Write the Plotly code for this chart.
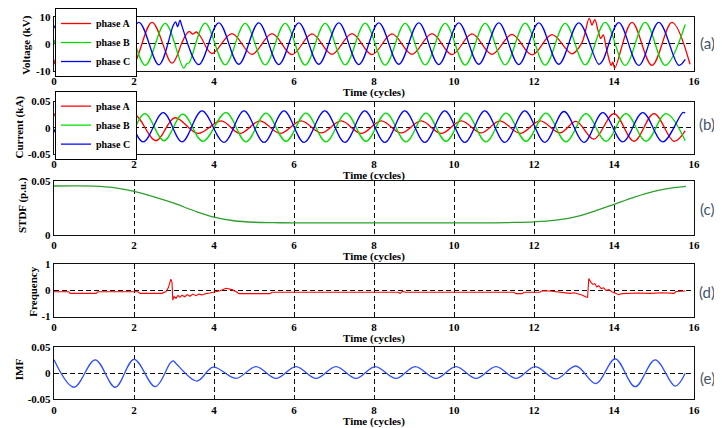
import plotly.graph_objects as go

# ------------------------------------------------------------------ data
TIME_TICKS = [0, 2, 4, 6, 8, 10, 12, 14, 16]
TIME_TICK_LABELS = ["0", "2", "4", "6", "8", "10", "12", "14", "16"]

V_TICKS = [-10, 0, 10]
V_TICK_LABELS = ["-10", "0", "10"]
I_TICKS = [-0.05, 0, 0.05]
I_TICK_LABELS = ["-0.05", "0", "0.05"]
S_TICKS = [0, 0.05]
S_TICK_LABELS = ["0", "0.05"]
F_TICKS = [-1, 0, 1]
F_TICK_LABELS = ["-1", "0", "1"]
M_TICKS = [-0.05, 0, 0.05]
M_TICK_LABELS = ["-0.05", "0", "0.05"]

PHASE_NAMES = ["phase A", "phase B", "phase C"]

# Voltage (kV) - extrema / key points
VA_T = [0.0, 0.45, 0.95, 1.45, 1.95, 2.45, 2.95, 3.20, 3.30, 3.38, 3.47, 3.56, 3.66, 3.95,
        4.45, 4.95, 5.45, 5.95, 6.45, 6.95, 7.45, 7.95, 8.45, 8.95, 9.45, 9.95, 10.45, 10.95,
        11.45, 11.95, 12.45, 12.95, 13.20, 13.38, 13.45, 13.52, 13.60, 13.67, 13.73, 13.80,
        13.88, 13.93, 13.97, 14.02, 14.45, 14.95, 15.45, 15.90]
VA_V = [-7.6, 8.0, -8.0, 8.0, -7.9, 8.0, -7.2, 0.5, 3.4, 4.6, 3.6, 4.4, 2.8, -3.6,
        3.8, -3.9, 3.8, -4.0, 3.7, -3.9, 3.8, -4.0, 3.7, -3.9, 3.8, -4.0, 3.7, -3.9,
        3.5, -4.1, 3.4, -3.7, 0.5, 9.5, 7.0, 9.0, 5.0, 2.0, 3.3, -1.0,
        -6.0, -8.0, -6.8, -9.0, 8.0, -8.0, 8.0, -7.6]

VB_T = [0.0, 0.28, 0.78, 1.28, 1.78, 2.28, 2.78, 3.24, 3.32, 3.38, 3.78, 4.28, 4.78, 5.28,
        5.78, 6.28, 6.78, 7.28, 7.78, 8.28, 8.78, 9.28, 9.78, 10.28, 10.78, 11.28, 11.78,
        12.28, 12.78, 13.28, 13.78, 14.28, 14.78, 15.28, 15.78]
VB_V = [1.5, -8.0, 8.0, -8.0, 8.0, -8.0, 7.6, -9.0, -7.4, -7.0, 7.7, -7.8, 7.6, -7.8,
        7.6, -7.9, 7.6, -7.8, 7.7, -7.9, 7.6, -7.8, 7.6, -7.9, 7.6, -7.8, 7.7,
        -7.9, 7.6, -7.8, 8.0, -8.0, 8.0, -8.0, 7.2]

VC_T = [0.0, 0.12, 0.62, 1.12, 1.62, 2.12, 2.62, 2.98, 3.04, 3.09, 3.15, 3.20, 3.62, 4.12,
        4.62, 5.12, 5.62, 6.12, 6.62, 7.12, 7.62, 8.12, 8.62, 9.12, 9.62, 10.12, 10.62,
        11.12, 11.62, 12.12, 12.62, 13.12, 13.62, 13.72, 14.12, 14.62, 15.12, 15.62, 15.78]
VC_V = [5.9, 8.0, -8.0, 8.0, -8.0, 8.0, -7.8, 6.8, 8.2, 6.4, 8.8, 6.5, -7.7, 7.8,
        -7.6, 7.8, -7.7, 7.8, -7.6, 7.8, -7.7, 7.8, -7.6, 7.8, -7.7, 7.8, -7.6,
        7.8, -7.7, 7.8, -7.6, 7.8, -7.6, -6.2, 7.9, -8.0, 8.0, -8.0, -5.8]

# Current (kA)
IA_T = [0.0, 0.5, 1.0, 1.5, 2.0, 2.55, 3.02, 3.6, 4.18, 4.65, 5.15, 5.65, 6.18, 6.68,
        7.18, 7.68, 8.18, 8.68, 9.18, 9.68, 10.18, 10.68, 11.15, 11.65, 12.15, 12.65,
        13.05, 13.5, 14.0, 14.5, 15.0, 15.5, 15.78]
IA_V = [0.027, -0.025, 0.026, -0.025, 0.025, -0.025, 0.019, -0.011, 0.013, -0.011, 0.013,
        -0.011, 0.013, -0.010, 0.013, -0.011, 0.013, -0.010, 0.013, -0.011, 0.013, -0.010,
        0.013, -0.011, 0.013, -0.010, 0.012, -0.022, 0.027, -0.026, 0.027, -0.026, -0.006]

IB_T = [0.0, 0.3, 0.8, 1.3, 1.8, 2.27, 2.75, 3.22, 3.72, 4.3, 4.8, 5.3, 5.8, 6.3, 6.8,
        7.3, 7.8, 8.3, 8.8, 9.3, 9.8, 10.3, 10.8, 11.3, 11.8, 12.3, 12.8, 13.3, 13.8,
        14.3, 14.8, 15.3, 15.78]
IB_V = [-0.008, 0.027, -0.025, 0.027, -0.025, 0.027, -0.025, 0.026, -0.026, 0.029, -0.027,
        0.028, -0.026, 0.028, -0.027, 0.028, -0.026, 0.028, -0.027, 0.028, -0.026, 0.028,
        -0.027, 0.028, -0.026, 0.028, -0.027, 0.027, -0.026, 0.027, -0.026, 0.027, -0.025]

IC_T = [0.0, 0.23, 0.73, 1.23, 1.73, 2.23, 2.73, 3.2, 3.7, 4.25, 4.75, 5.25, 5.75, 6.25,
        6.77, 7.27, 7.77, 8.27, 8.77, 9.27, 9.77, 10.27, 10.77, 11.27, 11.77, 12.27, 12.75,
        13.25, 13.72, 14.22, 14.72, 15.22, 15.72, 15.78]
IC_V = [-0.004, -0.027, 0.028, -0.027, 0.028, -0.027, 0.029, -0.027, 0.032, -0.028, 0.032,
        -0.028, 0.032, -0.028, 0.032, -0.028, 0.032, -0.028, 0.032, -0.028, 0.032, -0.028,
        0.032, -0.028, 0.032, -0.028, 0.031, -0.028, 0.029, -0.027, 0.029, -0.027, 0.029, 0.028]

# STDF (p.u.)
S_T = [0, 0.5, 1.0, 1.5, 2.0, 2.5, 3.0, 3.5, 4.0, 4.5, 5.0, 5.5, 6.0, 8.0, 10.0, 11.0,
       11.5, 12.0, 12.5, 13.0, 13.5, 14.0, 14.5, 15.0, 15.5, 15.8]
S_V = [0.0455, 0.0456, 0.0454, 0.0440, 0.0405, 0.0355, 0.0295, 0.0225, 0.0165, 0.0132,
       0.0118, 0.0114, 0.0112, 0.0112, 0.0112, 0.0113, 0.0116, 0.0122, 0.0135, 0.0165,
       0.0220, 0.0285, 0.0350, 0.0405, 0.0440, 0.0452]

# Frequency deviation
F_T = [0, 0.37, 0.40, 1.05, 1.10, 2.10, 2.15, 2.70, 2.80, 2.86, 2.92, 2.95, 2.97, 3.00,
       3.05, 3.10, 3.15, 3.20, 3.27, 3.33, 3.40, 3.47, 3.55, 3.62, 3.70, 3.80, 3.90, 4.00,
       4.15, 4.30, 4.45, 4.58, 4.62, 5.40, 5.45, 8.60, 8.65, 8.72, 8.78, 11.50, 11.55,
       11.70, 11.75, 12.15, 12.20, 12.40, 12.60, 12.75, 12.90, 13.00, 13.10, 13.20, 13.30,
       13.34, 13.37, 13.42, 13.47, 13.52, 13.57, 13.62, 13.68, 13.74, 13.80, 13.87, 13.95,
       14.05, 14.12, 14.20, 14.35, 14.60, 14.90, 15.20, 15.50, 15.55, 15.78]
F_V = [-0.06, -0.06, -0.12, -0.12, -0.06, -0.06, -0.12, -0.12, -0.05, 0.10, 0.42, 0.30,
       -0.38, -0.24, -0.31, -0.20, -0.27, -0.19, -0.25, -0.17, -0.23, -0.15, -0.21, -0.15,
       -0.18, -0.13, -0.11, -0.08, -0.02, 0.07, 0.02, -0.08, -0.13, -0.13, -0.08, -0.08,
       -0.12, -0.04, -0.08, -0.08, -0.13, -0.13, -0.08, -0.08, -0.02, -0.03, -0.06, -0.08,
       -0.12, -0.10, -0.15, -0.18, -0.26, -0.27, 0.44, 0.30, 0.22, 0.25, 0.12, 0.17, 0.06,
       0.09, -0.01, 0.02, -0.06, -0.12, -0.17, -0.13, -0.12, -0.11, -0.12, -0.10, -0.12,
       -0.05, -0.03]

# IMF
M_T = [0.0, 0.5, 1.03, 1.53, 2.0, 2.53, 2.9, 2.98, 3.05, 3.57, 3.98, 4.55, 5.05, 5.55,
       6.05, 6.55, 7.05, 7.55, 8.03, 8.55, 9.03, 9.55, 10.05, 10.55, 11.05, 11.55, 12.03,
       12.55, 13.05, 13.55, 14.03, 14.53, 15.03, 15.53, 15.78]
M_V = [0.026, -0.027, 0.026, -0.027, 0.027, -0.026, 0.019, 0.024, 0.019, -0.015, 0.012,
       -0.010, 0.013, -0.010, 0.013, -0.010, 0.013, -0.010, 0.013, -0.010, 0.013, -0.010,
       0.013, -0.010, 0.013, -0.010, 0.013, -0.011, 0.014, -0.020, 0.028, -0.026, 0.026,
       -0.025, 0.0]

Y_TITLES = ["Voltage (kV)", "Current (kA)", "STDF (p.u.)", "Frequency", "IMF"]
X_TITLE = "Time (cycles)"
PANEL_LABELS = ["(a)", "(b)", "(c)", "(d)", "(e)"]

# ------------------------------------------------------------------ layout constants
# page body adds an 8 px offset; positions below are given in window pixels
OFF = 8
W, H = 722 - OFF, 428 - OFF
X0, X1 = 54, 694
PANEL_TOP = [15, 100, 180, 263, 347]
PANEL_BOT = [69, 152.5, 234, 316, 399]
Y_RANGES = [[-10, 10], [-0.05, 0.05], [0, 0.05], [-1, 1], [-0.05, 0.05]]
YTITLE_X = [27, 19, 22, 33, 19]
YTITLE_Y = [43, 126, 204, 291, 369]
LABEL_Y = [41, 123, 208, 291, 378]
LABEL_X = 707
LEGEND_TOP = [6, 89]

PH_COLORS = ["#ff0000", "#00dd00", "#0000ff"]


def fx(p):
    return (p - OFF) / W


def fy(p):
    return 1 - (p - OFF) / H


fig = go.Figure()

volt = [(VA_T, VA_V), (VB_T, VB_V), (VC_T, VC_V)]
curr = [(IA_T, IA_V), (IB_T, IB_V), (IC_T, IC_V)]

for (t, v), name, col in zip(volt, PHASE_NAMES, PH_COLORS):
    fig.add_trace(go.Scatter(x=t, y=v, name=name, mode="lines", xaxis="x", yaxis="y",
                             line=dict(color=col, width=1.3, shape="spline", smoothing=1.0),
                             legend="legend"))
for (t, v), name, col in zip(curr, PHASE_NAMES, PH_COLORS):
    fig.add_trace(go.Scatter(x=t, y=v, name=name, mode="lines", xaxis="x2", yaxis="y2",
                             line=dict(color=col, width=1.3, shape="spline", smoothing=1.0),
                             legend="legend2"))

fig.add_trace(go.Scatter(x=S_T, y=S_V, name="STDF", mode="lines", xaxis="x3", yaxis="y3",
                         line=dict(color="#2ca02c", width=1.3, shape="spline"), showlegend=False))
fig.add_trace(go.Scatter(x=F_T, y=F_V, name="Frequency", mode="lines", xaxis="x4", yaxis="y4",
                         line=dict(color="#ff0000", width=1.1), showlegend=False))
fig.add_trace(go.Scatter(x=M_T, y=M_V, name="IMF", mode="lines", xaxis="x5", yaxis="y5",
                         line=dict(color="#2f4fff", width=1.3, shape="spline"), showlegend=False))

tick_font = dict(family="Liberation Serif", size=11, color="black", weight="bold")
title_font = dict(family="Liberation Serif", size=11, color="black", weight="bold")

yticks = [(V_TICKS, V_TICK_LABELS), (I_TICKS, I_TICK_LABELS), (S_TICKS, S_TICK_LABELS),
          (F_TICKS, F_TICK_LABELS), (M_TICKS, M_TICK_LABELS)]

layout = {}
annotations = []
for i in range(5):
    sfx = "" if i == 0 else str(i + 1)
    common = dict(showgrid=True, gridcolor="#111111", griddash="5px,3px", gridwidth=1,
                  zeroline=False, showline=True, mirror=True, linecolor="#111111",
                  linewidth=1.4, ticks="", tickfont=tick_font, fixedrange=True,
                  automargin=False, ticklabeloverflow="allow")
    layout["xaxis" + sfx] = dict(domain=[fx(X0), fx(X1)], range=[0, 16], anchor="y" + sfx,
                                 tickmode="array", tickvals=TIME_TICKS,
                                 ticktext=TIME_TICK_LABELS, **common)
    layout["yaxis" + sfx] = dict(domain=[fy(PANEL_BOT[i]), fy(PANEL_TOP[i])],
                                 range=Y_RANGES[i], anchor="x" + sfx, tickmode="array",
                                 tickvals=yticks[i][0], ticktext=yticks[i][1], **common)
    annotations.append(dict(text=X_TITLE, xref="paper", yref="paper",
                            x=fx((X0 + X1) / 2), y=fy(PANEL_BOT[i] + 22),
                            xanchor="center", yanchor="middle", showarrow=False,
                            font=title_font))
    annotations.append(dict(text=Y_TITLES[i], xref="paper", yref="paper",
                            x=fx(YTITLE_X[i]), y=fy(YTITLE_Y[i]), textangle=-90,
                            xanchor="center", yanchor="middle", showarrow=False,
                            font=title_font))
    annotations.append(dict(text=PANEL_LABELS[i], xref="paper", yref="paper",
                            x=fx(LABEL_X), y=fy(LABEL_Y[i]), xanchor="center",
                            yanchor="middle", showarrow=False,
                            font=dict(family="Lato", size=15, color="#44546a")))

legend_font = dict(family="Liberation Serif", size=10, color="black", weight="bold")
legend_common = dict(bgcolor="white", bordercolor="black", borderwidth=1, font=legend_font,
                     xanchor="left", yanchor="top", tracegroupgap=0, itemwidth=30)

fig.update_layout(
    width=W, height=H,
    margin=dict(l=0, r=0, t=0, b=0, pad=0),
    paper_bgcolor="white", plot_bgcolor="white",
    annotations=annotations,
    legend=dict(x=fx(X0 + 1), y=fy(LEGEND_TOP[0]), **legend_common),
    legend2=dict(x=fx(X0 + 1), y=fy(LEGEND_TOP[1]), **legend_common),
    **layout,
)

fig.write_html("out.html")
